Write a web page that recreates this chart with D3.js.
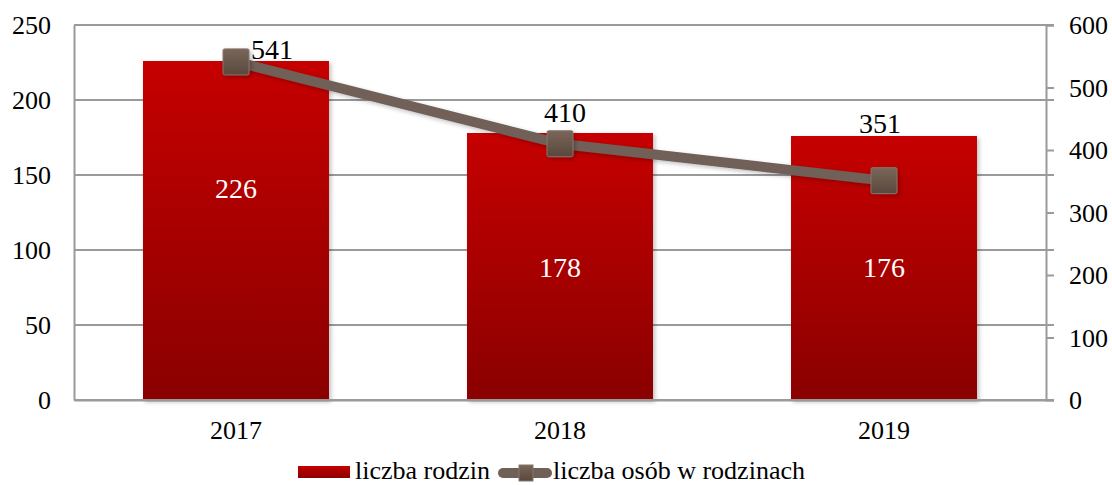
<!DOCTYPE html>
<html><head><meta charset="utf-8">
<script src="https://cdn.jsdelivr.net/npm/d3@7"></script>
<style>html,body{margin:0;padding:0;background:#fff;}</style>
</head>
<body>
<svg id="chart" width="1112" height="485"></svg>
<script>
const categories = ["2017", "2018", "2019"];
const families = [226, 178, 176];          // liczba rodzin (left axis)
const persons = [541, 410, 351];           // liczba osób w rodzinach (right axis)
const leftTicks = [0, 50, 100, 150, 200, 250];
const rightTicks = [0, 100, 200, 300, 400, 500, 600];
const seriesNames = ["liczba rodzin", "liczba osób w rodzinach"];

const FONT = '"Liberation Serif"';
const m = {left: 74, right: 1046, top: 25, bottom: 400};
const svg = d3.select("#chart");
const defs = svg.append("defs");

const barGrad = defs.append("linearGradient").attr("id","barGrad")
  .attr("x1",0).attr("y1",0).attr("x2",0).attr("y2",1);
barGrad.append("stop").attr("offset","0%").attr("stop-color","#c60000");
barGrad.append("stop").attr("offset","100%").attr("stop-color","#8a0000");

const mkGrad = defs.append("linearGradient").attr("id","mkGrad")
  .attr("x1",0).attr("y1",0).attr("x2",0).attr("y2",1);
mkGrad.append("stop").attr("offset","0%").attr("stop-color","#7a6658");
mkGrad.append("stop").attr("offset","100%").attr("stop-color","#59483e");

const shadow = defs.append("filter").attr("id","shadow")
  .attr("x","-20%").attr("y","-20%").attr("width","140%").attr("height","140%");
shadow.append("feDropShadow").attr("dx",2).attr("dy",2).attr("stdDeviation",2)
  .attr("flood-color","#000").attr("flood-opacity",0.25);

const x = d3.scaleBand().domain(categories).range([m.left, m.right])
  .paddingInner(0.426).paddingOuter(0.213);
const yL = d3.scaleLinear().domain([0, 250]).range([m.bottom, m.top]);
const yR = d3.scaleLinear().domain([0, 600]).range([m.bottom, m.top]);

const gridColor = "#9a9a9a";

// gridlines
svg.append("g").selectAll("line").data(leftTicks).join("line")
  .attr("x1", m.left).attr("x2", m.right + 8)
  .attr("y1", d => yL(d)).attr("y2", d => yL(d))
  .attr("stroke", gridColor).attr("stroke-width", 2);

function styleText(sel, size) {
  sel.attr("font-size", size).attr("fill", "#000")
    .style("font-family", FONT).style("font-size", size + "px");
}

// left axis
const axL = svg.append("g").attr("transform", `translate(${m.left},0)`)
  .call(d3.axisLeft(yL).tickValues(leftTicks).tickSize(0).tickPadding(23));
axL.select(".domain").attr("stroke", gridColor).attr("stroke-width", 2);
axL.selectAll("text").call(styleText, 26).attr("dy","0.33em");

// right axis
const axR = svg.append("g").attr("transform", `translate(${m.right},0)`)
  .call(d3.axisRight(yR).tickValues(rightTicks).tickSize(8).tickPadding(15));
axR.select(".domain").attr("stroke", gridColor).attr("stroke-width", 2);
axR.selectAll(".tick line").attr("stroke", gridColor).attr("stroke-width", 2);
axR.selectAll("text").call(styleText, 26).attr("dy","0.33em");

// bottom axis
const axB = svg.append("g").attr("transform", `translate(0,${m.bottom})`)
  .call(d3.axisBottom(x).tickSize(0).tickPadding(21));
axB.select(".domain").attr("stroke", gridColor).attr("stroke-width", 2);
axB.selectAll("text").call(styleText, 26);

// bars
svg.append("g").selectAll("rect").data(families).join("rect")
  .attr("x", (d,i) => x(categories[i]))
  .attr("y", d => yL(d))
  .attr("width", x.bandwidth())
  .attr("height", d => yL(0) - yL(d))
  .attr("fill", "url(#barGrad)")
  .attr("filter", "url(#shadow)");

// redraw bottom domain over bar shadows
svg.append("line").attr("x1", m.left).attr("x2", m.right)
  .attr("y1", m.bottom).attr("y2", m.bottom)
  .attr("stroke", gridColor).attr("stroke-width", 2);

// bar labels (placed at left-axis value levels as in the reference)
const barLabelAt = [135, 82, 82];
svg.append("g").selectAll("text").data(families).join("text")
  .attr("x", (d,i) => x(categories[i]) + x.bandwidth()/2)
  .attr("y", (d,i) => yL(barLabelAt[i]))
  .attr("text-anchor", "middle").call(styleText, 28).attr("fill", "#fff")
  .text(d => d);

// line
const cx = i => x(categories[i]) + x.bandwidth()/2;
const line = d3.line().x((d,i) => cx(i)).y(d => yR(d));
svg.append("path").datum(persons).attr("d", line)
  .attr("fill", "none").attr("stroke", "#6f6158").attr("stroke-width", 10)
  .attr("stroke-linejoin", "round").attr("filter", "url(#shadow)");

const mk = 26;
svg.append("g").selectAll("rect").data(persons).join("rect")
  .attr("x", (d,i) => cx(i) - mk/2).attr("y", d => yR(d) - mk/2)
  .attr("width", mk).attr("height", mk).attr("rx", 1.5)
  .attr("fill", "url(#mkGrad)").attr("stroke", "#85766c").attr("stroke-width", 1)
  .attr("filter", "url(#shadow)");

// line labels
const lineLabelAt = [546, 445, 427];
const lineLabelDx = [36, 5, -4];
svg.append("g").selectAll("text").data(persons).join("text")
  .attr("x", (d,i) => cx(i) + lineLabelDx[i])
  .attr("y", (d,i) => yR(lineLabelAt[i]))
  .attr("text-anchor", "middle").call(styleText, 28)
  .text(d => d);

// legend
const lg = svg.append("g");
lg.append("rect").attr("x", 298).attr("y", 466).attr("width", 52).attr("height", 12)
  .attr("fill", "url(#barGrad)");
lg.append("text").attr("x", 355).attr("y", 479).call(styleText, 26)
  .text(seriesNames[0]);
lg.append("line").attr("x1", 503).attr("x2", 547).attr("y1", 473).attr("y2", 473)
  .attr("stroke", "#6f6158").attr("stroke-width", 10).attr("stroke-linecap", "round");
lg.append("rect").attr("x", 519).attr("y", 465).attr("width", 14).attr("height", 16)
  .attr("fill", "url(#mkGrad)").attr("stroke", "#85766c").attr("stroke-width", 1);
lg.append("text").attr("x", 553).attr("y", 479).call(styleText, 26)
  .text(seriesNames[1]);
</script>
</body></html>
